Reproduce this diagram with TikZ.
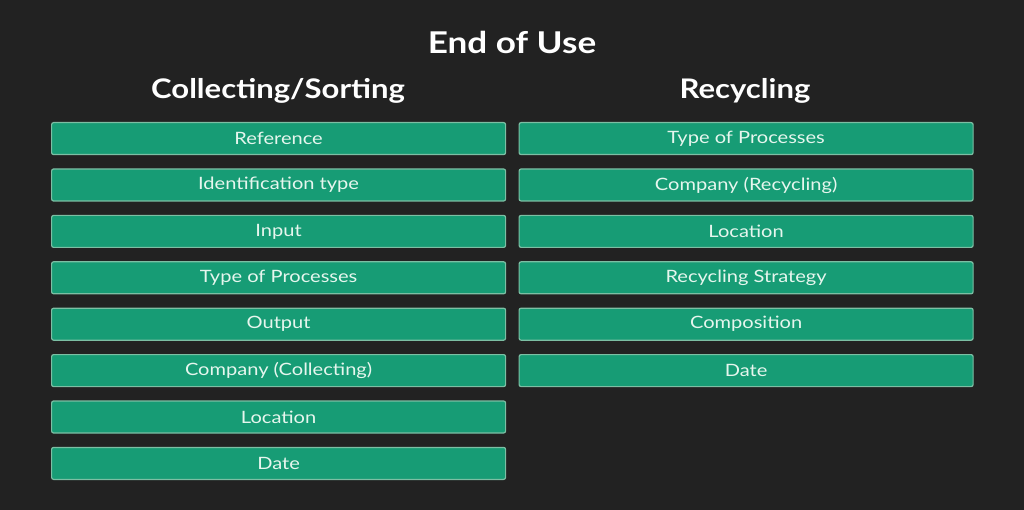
\documentclass[tikz,border=0pt]{standalone}
\usepackage{fontspec}
\setmainfont{Lato}
\newfontfamily\boxfont{Lato}[FakeStretch=1.18]
\newfontfamily\headfont{Lato}[FakeStretch=1.15]
\newfontfamily\titlefont{Lato}[FakeStretch=1.17]
\definecolor{bg}{HTML}{222222}
\definecolor{boxfill}{HTML}{179C75}
\definecolor{boxline}{HTML}{7CBFA4}
\definecolor{boxtext}{HTML}{E6F6EE}
\tikzset{
  itembox/.style={draw=boxline, line width=1.2pt, fill=boxfill, rounded corners=2pt,
    minimum width=454pt, minimum height=32pt, inner sep=0pt, anchor=north west,
    text=boxtext, font=\boxfont\fontsize{17}{20}\selectfont},
  heading/.style={text=white, font=\headfont\fontsize{27}{32}\selectfont\bfseries, inner sep=0pt},
  titletext/.style={text=white, font=\titlefont\fontsize{30}{36}\selectfont\bfseries, inner sep=0pt}
}
\begin{document}
\begin{tikzpicture}[x=1pt,y=-1pt]
\fill[bg] (0,0) rectangle (1024,510);
\useasboundingbox (0,0) rectangle (1024,510);
\node[titletext, anchor=base] (title) at (512,54) {End of Use};
\node[heading, anchor=base] (hcs) at (278,99) {Collecting/Sorting};
\node[heading, anchor=base] (hrc) at (745,99) {Recycling};
\node[itembox] (l1) at (51,122) {Reference};
\node[itembox] (l2) at (51,168.4) {Identification type};
\node[itembox] (l3) at (51,214.8) {Input};
\node[itembox] (l4) at (51,261.2) {Type of Processes};
\node[itembox] (l5) at (51,307.6) {Output};
\node[itembox] (l6) at (51,354) {Company (Collecting)};
\node[itembox] (l7) at (51,400.4) {Location};
\node[itembox] (l8) at (51,446.8) {Date};
\node[itembox] (r1) at (518.5,122) {Type of Processes};
\node[itembox] (r2) at (518.5,168.4) {Company (Recycling)};
\node[itembox] (r3) at (518.5,214.8) {Location};
\node[itembox] (r4) at (518.5,261.2) {Recycling Strategy};
\node[itembox] (r5) at (518.5,307.6) {Composition};
\node[itembox] (r6) at (518.5,354) {Date};
\end{tikzpicture}
\end{document}
